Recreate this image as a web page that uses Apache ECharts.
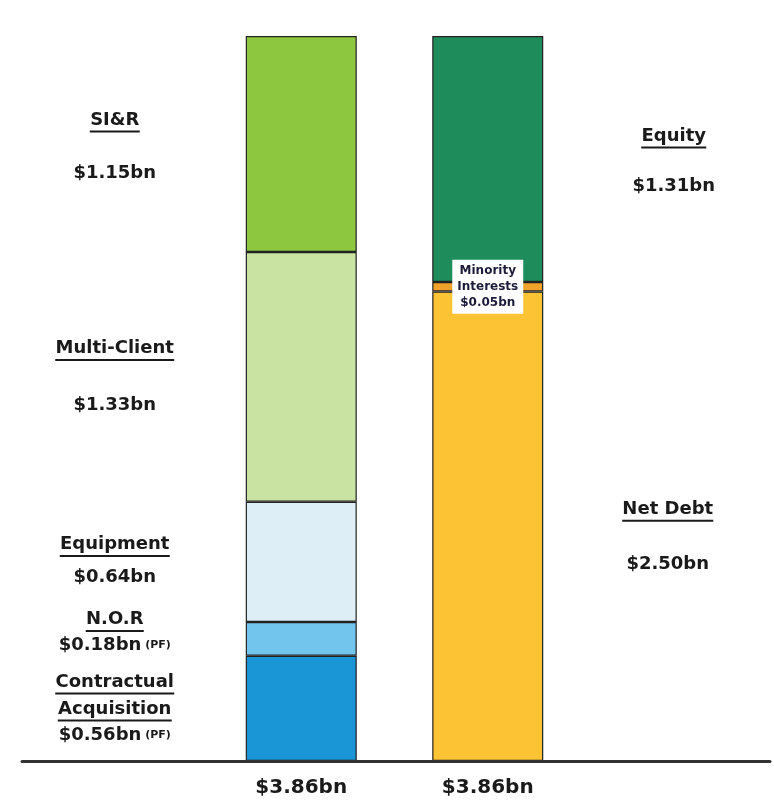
<!DOCTYPE html>
<html><head><meta charset="utf-8">
<script src="https://cdn.jsdelivr.net/npm/echarts@6/dist/echarts.min.js"></script>
<style>html,body{margin:0;padding:0;background:#fff}#chart{width:774px;height:802px}</style>
</head><body><div id="chart"></div>
<script>
// ---- data ----
const categories = ['Assets', 'Financing'];
const tickLabels = ['$3.86bn', '$3.86bn'];
const leftNames = ['Contractual\nAcquisition', 'N.O.R', 'Equipment', 'Multi-Client', 'SI&R'];
const leftValues = [0.56, 0.18, 0.64, 1.33, 1.15];
const leftNotes = ['(PF)', '(PF)', '', '', ''];
const rightNames = ['Net Debt', 'Minority\nInterests', 'Equity'];
const rightValues = [2.50, 0.05, 1.31];
const rightNotes = ['', '', ''];

// ---- styles ----
const leftColors = ['#1a95d5', '#72c5ec', '#ddeef7', '#c9e3a3', '#8dc63f'];
const rightColors = ['#fcc335', '#f0a22a', '#1f8c5b'];
const leftGaps = [[4, 3], [3], [10], [34], [30]];
const leftShift = [[-186.5, 0], [-186.5, -6.5], [-186.5, -1], [-186.5, 0], [-186.5, 2.5]];
const rightGaps = [[32], [0], [27]];
const rightShift = [[180, 10.5], [0, 0], [186, 2]];
const FONT = 'DejaVu Sans';
const TXT = '#1a1a1a';

const ctx = document.createElement('canvas').getContext('2d');
function textW(t, size) { ctx.font = 'bold ' + size + 'px "' + FONT + '"'; return Math.ceil(ctx.measureText(t).width); }
function fmt(v) { return '$' + v.toFixed(2) + 'bn'; }

function sideLabel(name, value, note, gaps, shift) {
  const lines = name.split('\n');
  const base = { fontFamily: FONT, fontWeight: 'bold', fontSize: 18, lineHeight: 20, color: TXT };
  const rich = {
    n: base,
    v: base,
    p: { fontFamily: FONT, fontWeight: 'bold', fontSize: 11, lineHeight: 20, color: TXT }
  };
  const parts = [];
  lines.forEach((ln, k) => {
    const g = Math.max(1, gaps[k]);
    rich['u' + k] = { width: textW(ln, 18), height: 2, lineHeight: 3, backgroundColor: TXT };
    rich['g' + k] = { width: 1, height: g, lineHeight: g };
    parts.push('{n|' + ln + '}', '{u' + k + '|}', '{g' + k + '|}');
  });
  parts.push('{v|' + fmt(value) + '}' + (note ? '{p| ' + note + '}' : ''));
  const str = parts.join('\n');
  return {
    show: true, position: 'inside', offset: shift, align: 'center', verticalAlign: 'middle',
    color: TXT, textBorderWidth: 0, formatter: () => str, rich
  };
}

function boxLabel(name, value) {
  const str = name + '\n' + fmt(value);
  return {
    show: true, position: 'inside', offset: [0, 0], align: 'center', verticalAlign: 'middle',
    formatter: () => str, backgroundColor: '#ffffff', padding: [3, 5],
    color: '#1c1c3a', textBorderWidth: 0, fontFamily: FONT, fontWeight: 'bold', fontSize: 12, lineHeight: 16
  };
}

const total = leftValues.reduce((a, b) => a + b, 0);
const series = [];
leftValues.forEach((v, i) => {
  series.push({
    type: 'bar', name: leftNames[i], stack: 'total', barWidth: 111, silent: true,
    xAxisIndex: 0, yAxisIndex: 0,
    data: [v, '-'],
    itemStyle: { color: leftColors[i], borderColor: '#222222', borderWidth: 1.2 },
    label: sideLabel(leftNames[i], v, leftNotes[i], leftGaps[i], leftShift[i])
  });
});
rightValues.forEach((v, i) => {
  series.push({
    type: 'bar', name: rightNames[i], stack: 'total', barWidth: 111, silent: true,
    xAxisIndex: 0, yAxisIndex: 0,
    data: ['-', v],
    itemStyle: { color: rightColors[i], borderColor: '#222222', borderWidth: 1.2 },
    label: i === 1 ? boxLabel(rightNames[i], v)
                   : sideLabel(rightNames[i], v, rightNotes[i], rightGaps[i], rightShift[i])
  });
});

const chart = echarts.init(document.getElementById('chart'), null, { renderer: 'canvas' });
chart.setOption({
  animation: false,
  backgroundColor: '#ffffff',
  grid: [
    { left: 208, width: 373, top: 36, bottom: 41 },
    { left: 22, right: 4, top: 36, bottom: 41 }
  ],
  xAxis: [
    {
      type: 'category', gridIndex: 0, data: categories,
      axisLine: { show: false }, axisTick: { show: false }, splitLine: { show: false },
      axisLabel: {
        formatter: (val, idx) => tickLabels[idx], color: TXT, fontFamily: FONT,
        fontWeight: 'bold', fontSize: 20, lineHeight: 20, margin: 17
      }
    },
    {
      type: 'value', gridIndex: 1, min: 0, max: 1, z: 10,
      axisLine: { show: true, lineStyle: { color: '#333333', width: 3 } },
      axisTick: { show: false }, axisLabel: { show: false }, splitLine: { show: false }
    }
  ],
  yAxis: [
    { type: 'value', gridIndex: 0, min: 0, max: total, show: false },
    { type: 'value', gridIndex: 1, min: 0, max: 1, show: false }
  ],
  series
});
</script>
</body></html>
